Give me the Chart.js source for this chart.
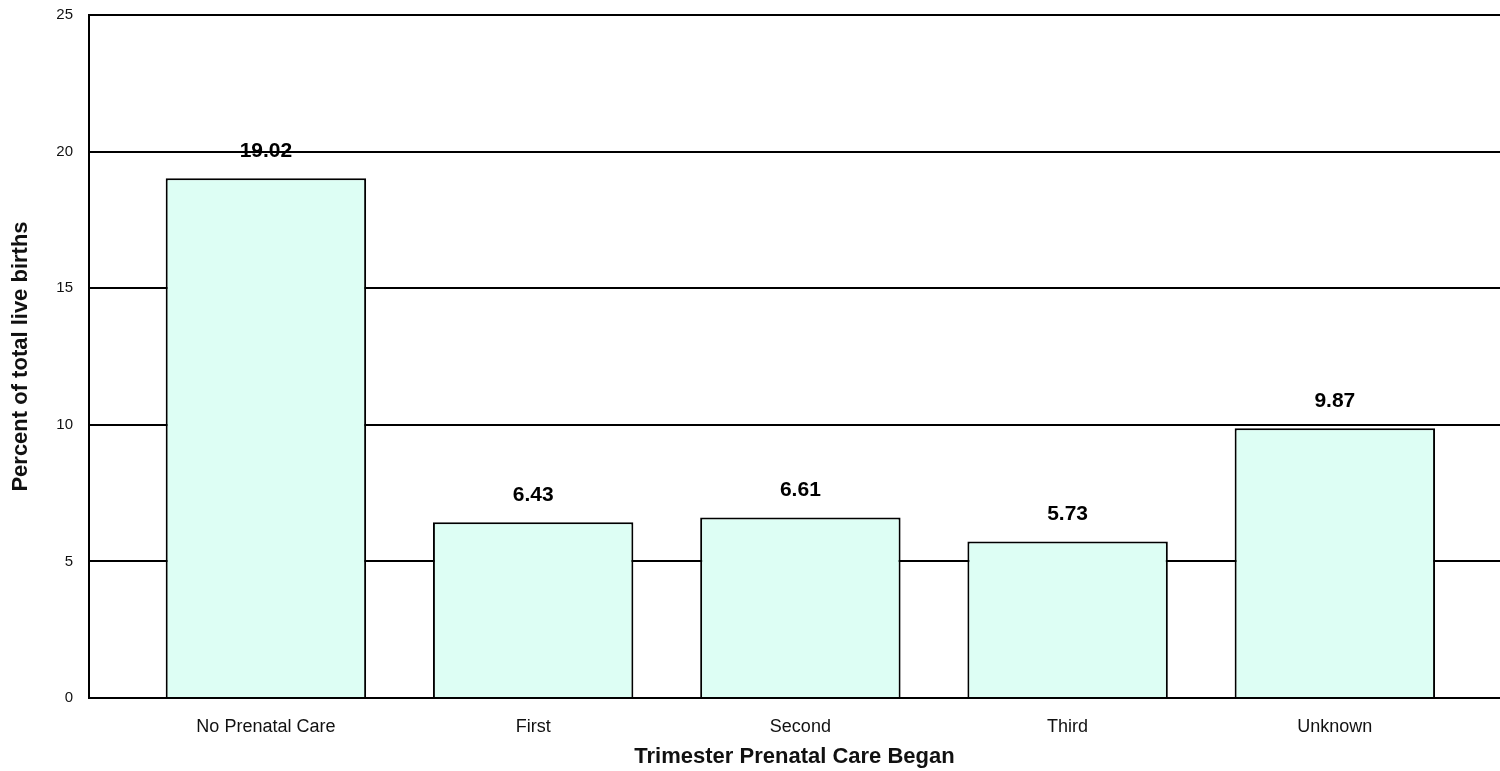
<!DOCTYPE html>
<html>
<head>
<meta charset="utf-8">
<script src="https://cdn.jsdelivr.net/npm/chart.js@4"></script>
<style>
  html, body { margin: 0; padding: 0; background: #fff; }
  #wrap { width: 1500px; height: 771px; }
</style>
</head>
<body>
<div id="wrap"><canvas id="births"></canvas></div>
<script>
const categories = ["No Prenatal Care", "First", "Second", "Third", "Unknown"];
const percents = [19.02, 6.43, 6.61, 5.73, 9.87];
const yTicks = [0, 5, 10, 15, 20, 25];

const FONT = "'Liberation Sans', Arial, sans-serif";
// the original plot leaves a gap before the first bar and after the last one
const catStart = -0.662;
const catRange = 5.28;

// value labels above each bar
const barLabels = {
  id: "barLabels",
  afterDatasetsDraw(chart) {
    const ctx = chart.ctx;
    const meta = chart.getDatasetMeta(0);
    ctx.save();
    ctx.font = "bold 21px " + FONT;
    ctx.fillStyle = "#000";
    ctx.textAlign = "center";
    ctx.textBaseline = "middle";
    meta.data.forEach((bar, i) => {
      ctx.fillText(percents[i].toFixed(2), bar.x, bar.y - 27);
    });
    ctx.restore();
  }
};

new Chart("births", {
  type: "bar",
  data: {
    labels: categories,
    datasets: [{
      data: percents,
      backgroundColor: "#DDFEF4",
      borderColor: "#000",
      borderWidth: 2,
      categoryPercentage: 1,
      barPercentage: 0.75
    }]
  },
  options: {
    responsive: true,
    maintainAspectRatio: false,
    animation: false,
    layout: { padding: { top: 15, right: 0, left: 0, bottom: 0 } },
    plugins: {
      legend: { display: false },
      tooltip: { enabled: false }
    },
    scales: {
      x: {
        grid: { display: false, drawTicks: false },
        border: { color: "#000", width: 2 },
        afterBuildTicks(scale) {
          scale._startValue = catStart;
          scale._valueRange = catRange;
        },
        ticks: {
          color: "#111",
          padding: 18,
          font: { family: FONT, size: 18 }
        },
        title: {
          display: true,
          text: "Trimester Prenatal Care Began",
          color: "#111",
          padding: { top: 0, bottom: 1 },
          font: { family: FONT, size: 22, weight: "bold" }
        },
        afterFit(scale) {
          scale.height = 73;
          scale.paddingLeft = 0;
          scale.paddingRight = 0;
        }
      },
      y: {
        min: 0,
        max: 25,
        afterBuildTicks(scale) { scale.ticks = yTicks.map(v => ({ value: v })); },
        grid: { color: "#000", lineWidth: 2, drawTicks: false },
        border: { color: "#000", width: 2 },
        ticks: {
          color: "#111",
          padding: 16,
          font: { family: FONT, size: 15 }
        },
        title: {
          display: true,
          text: "Percent of total live births",
          color: "#111",
          padding: { top: 8, bottom: 0 },
          font: { family: FONT, size: 22, weight: "bold" }
        },
        afterFit(scale) {
          scale.width = 89;
          scale.paddingTop = 0;
          scale.paddingBottom = 0;
        }
      }
    }
  },
  plugins: [barLabels]
});
</script>
</body>
</html>
